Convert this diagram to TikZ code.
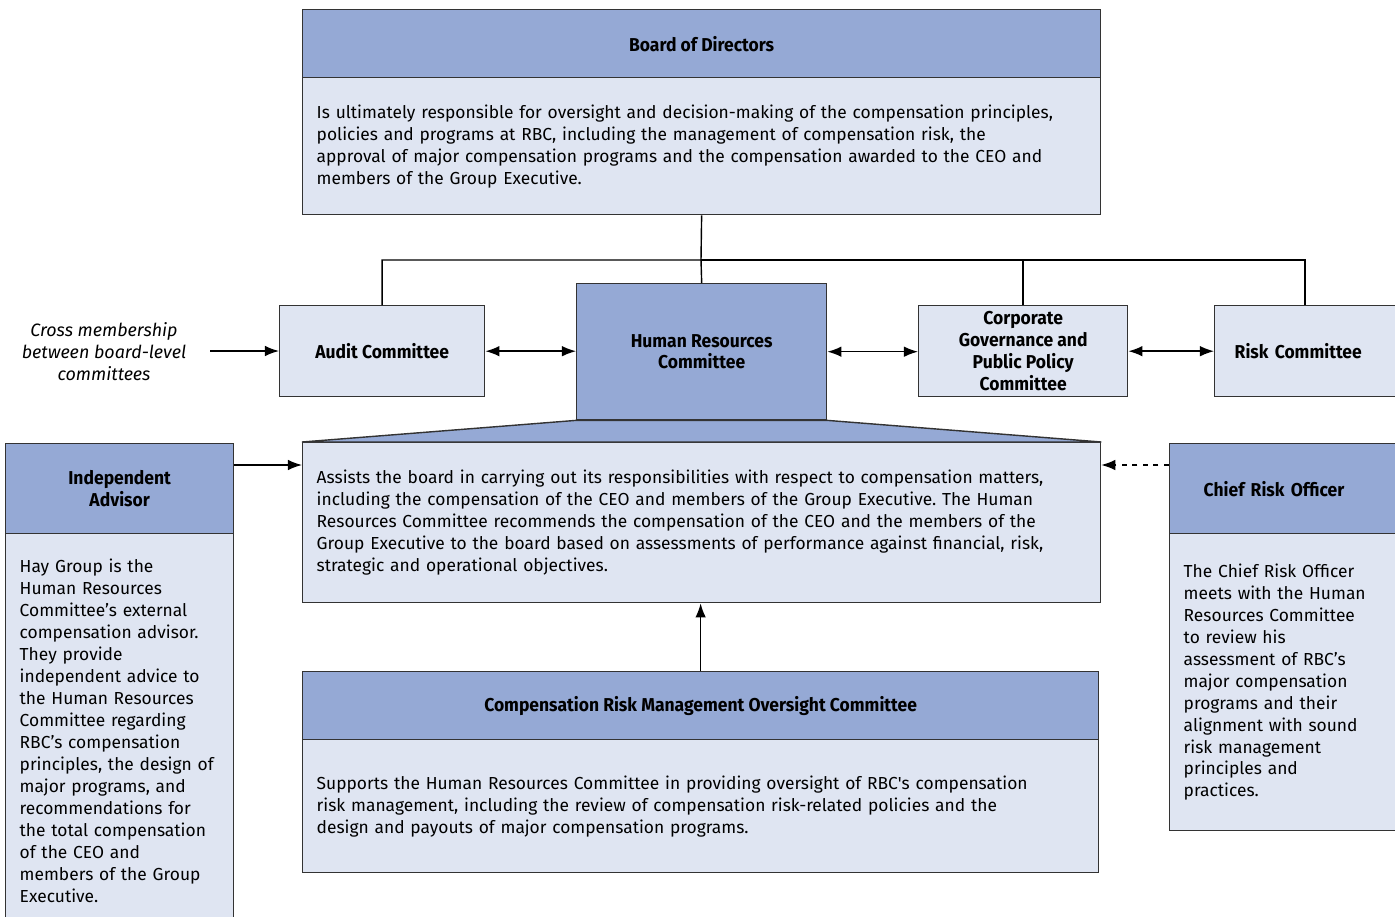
\documentclass[tikz,border=0pt]{standalone}
\usepackage{fontspec}
\setmainfont{Fira Sans}
\newfontfamily\headfont[FakeStretch=0.94]{Fira Sans}
\usepackage{tikz}
\usetikzlibrary{arrows.meta}
\frenchspacing

\definecolor{headblue}{HTML}{95A9D5}
\definecolor{bodyblue}{HTML}{DFE5F2}
\definecolor{edgegrey}{HTML}{333333}

\begin{document}
\begin{tikzpicture}[x=0.02cm, y=-0.02cm, line width=0.8pt,
    headbox/.style={draw=edgegrey, fill=headblue, anchor=north west, inner sep=0pt, align=center,
                    font=\headfont\bfseries\fontsize{10.6}{12.5}\selectfont},
    combox/.style={headbox, fill=bodyblue},
    bodybox/.style={draw=edgegrey, fill=bodyblue, anchor=north west, inner xsep=0.28cm, inner ysep=0pt,
                    align=left, font=\fontsize{9.9}{12.5}\selectfont},
    arr/.style={-{Latex[length=8pt, width=6pt]}},
    dblarr/.style={{Latex[length=8pt, width=6pt]}-{Latex[length=8pt, width=6pt]}}]

\useasboundingbox (0,0) rectangle (1395,916);
\clip (0,0) rectangle (1395,916);

% draw board of directors
\node[headbox, minimum width=15.96cm, minimum height=1.36cm] (boardhead) at (302,9) {Board of Directors};
\node[bodybox, text width=15.4cm, minimum height=2.74cm] (boardbody) at (302,77)
  {Is ultimately responsible for oversight and decision-making of the compensation principles,\\
   policies and programs at RBC, including the management of compensation risk, the\\
   approval of major compensation programs and the compensation awarded to the CEO and\\
   members of the Group Executive.};

% draw board-level committees
\node[combox, minimum width=4.1cm, minimum height=1.82cm] (audit) at (279,305) {Audit Committee};
\node[headbox, minimum width=5cm, minimum height=2.72cm] (hr) at (576,283) {Human Resources\\Committee};
\node[combox, minimum width=4.18cm, minimum height=1.82cm] (corp) at (918,305)
  {Corporate\\Governance and\\Public Policy\\Committee};
\node[combox, align=left, inner xsep=0.4cm, text width=3.2cm, minimum height=1.82cm] (risk) at (1214,305)
  {Risk Committee};

% draw lines from the board
\coordinate (bus) at (701,260);
\draw (boardbody.south) -- (bus);
\draw (audit.north) |- (bus) -- (hr.north);
\draw (bus) -| (corp.north);
\draw (bus) -| ([xshift=1.82cm]risk.north west);

% draw cross membership arrows
\node[font=\itshape\fontsize{10.2}{12.5}\selectfont, align=center] (cross) at (104,352)
  {Cross membership\\between board-level\\committees};
\coordinate (crossend) at (210,351);
\draw[arr] (crossend) -- (crossend -| audit.west);
\draw[dblarr] (audit.east) -- (audit.east -| hr.west);
\draw[dblarr] (hr.east) -- (hr.east -| corp.west);
\draw[dblarr] (corp.east) -- (corp.east -| risk.west);

% draw human resources committee body and trapezoid
\node[bodybox, text width=15.4cm, minimum height=3.2cm] (hrbody) at (302,442)
  {Assists the board in carrying out its responsibilities with respect to compensation matters,\\
   including the compensation of the CEO and members of the Group Executive. The Human\\
   Resources Committee recommends the compensation of the CEO and the members of the\\
   Group Executive to the board based on assessments of performance against financial, risk,\\
   strategic and operational objectives.};
\filldraw[draw=edgegrey, fill=headblue] (hrbody.north west) -- (hr.south west) -- (hr.south east)
                                        -- (hrbody.north east) -- cycle;

% draw compensation risk management oversight committee
\node[headbox, minimum width=15.92cm, minimum height=1.36cm] (crmochead) at (302,671)
  {Compensation Risk Management Oversight Committee};
\node[bodybox, text width=15.36cm, minimum height=2.66cm] (crmocbody) at (302,739)
  {Supports the Human Resources Committee in providing oversight of RBC\textquotesingle s compensation\\
   risk management, including the review of compensation risk-related policies and the\\
   design and payouts of major compensation programs.};
\draw[arr] (crmochead.north) -- (crmochead.north |- hrbody.south);

% draw independent advisor
\node[headbox, minimum width=4.56cm, minimum height=1.8cm] (iahead) at (5,443) {Independent\\Advisor};
\node[bodybox, text width=4cm, minimum height=7.88cm] (iabody) at (5,533)
  {Hay Group is the\\
   Human Resources\\
   Committee’s external\\
   compensation advisor.\\
   They provide\\
   independent advice to\\
   the Human Resources\\
   Committee regarding\\
   RBC’s compensation\\
   principles, the design of\\
   major programs, and\\
   recommendations for\\
   the total compensation\\
   of the CEO and\\
   members of the Group\\
   Executive.};
\draw[arr] ([yshift=-0.44cm]iahead.north east) -- ([yshift=-0.44cm]iahead.north east -| hrbody.west);

% draw chief risk officer
\node[headbox, align=left, inner xsep=0.68cm, text width=3.84cm, minimum height=1.8cm] (crohead) at (1169,443)
  {Chief Risk Officer};
\node[bodybox, text width=4.64cm, minimum height=5.94cm] (crobody) at (1169,533)
  {The Chief Risk Officer\\
   meets with the Human\\
   Resources Committee\\
   to review his\\
   assessment of RBC’s\\
   major compensation\\
   programs and their\\
   alignment with sound\\
   risk management\\
   principles and\\
   practices.};
\draw[arr, dashed] ([yshift=-0.44cm]crohead.north west) -- ([yshift=-0.44cm]crohead.north west -| hrbody.east);

\end{tikzpicture}
\end{document}
